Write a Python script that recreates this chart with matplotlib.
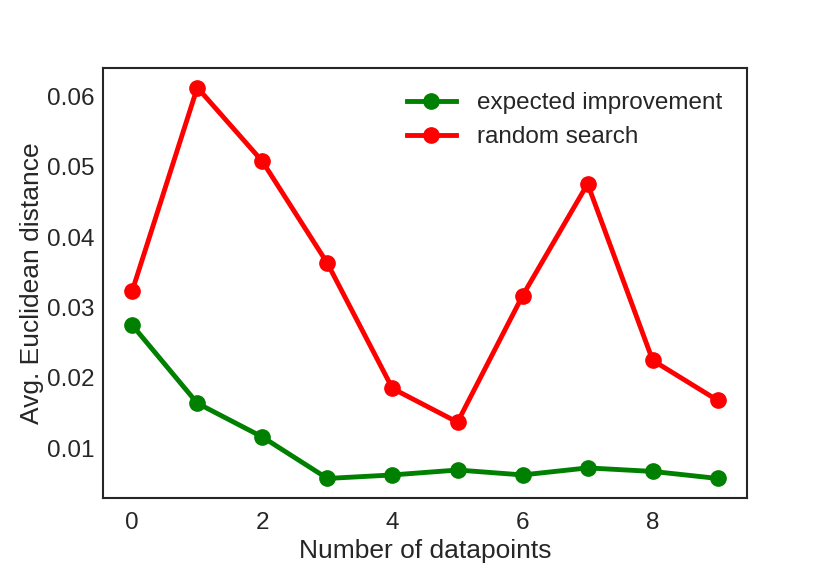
import matplotlib
matplotlib.use("Agg")
import matplotlib.pyplot as plt

x = list(range(10))
expected_improvement = [0.0275, 0.0164, 0.0116, 0.0057, 0.0062, 0.0069, 0.0062, 0.0072, 0.0067, 0.0057]
random_search = [0.0324, 0.0613, 0.0508, 0.0363, 0.0185, 0.0137, 0.0317, 0.0476, 0.0225, 0.0168]

plt.rcParams['font.family'] = ['Liberation Sans', 'DejaVu Sans']
plt.rcParams['text.color'] = '#262626'
plt.rcParams['axes.labelcolor'] = '#262626'
plt.rcParams['xtick.color'] = '#262626'
plt.rcParams['ytick.color'] = '#262626'
fig = plt.figure(figsize=(8.3, 5.71), dpi=100)
ax = fig.add_axes([103/830, 1-498/571, (747-103)/830, (498-68)/571])
ax.plot(x, expected_improvement, color='green', lw=3.5, marker='o', ms=11, label='expected improvement')
ax.plot(x, random_search, color='red', lw=3.5, marker='o', ms=11, label='random search')
ax.set_xlabel('Number of datapoints', fontsize=19, labelpad=4)
ax.set_ylabel('Avg. Euclidean distance', fontsize=19, labelpad=2)
ax.tick_params(labelsize=17.5, length=0)
ax.tick_params(axis='x', pad=10)
ax.tick_params(axis='y', pad=6)
ax.set_xticks([0, 2, 4, 6, 8])
ax.set_yticks([0.01, 0.02, 0.03, 0.04, 0.05, 0.06])
for s in ax.spines.values():
    s.set_color('#262626')
    s.set_linewidth(1.5)
ax.legend(loc='upper right', fontsize=17.5, frameon=False, handlelength=2.0,
          labelspacing=0.5, borderaxespad=0.6, handletextpad=0.9)
fig.savefig('out.png', dpi=100)
